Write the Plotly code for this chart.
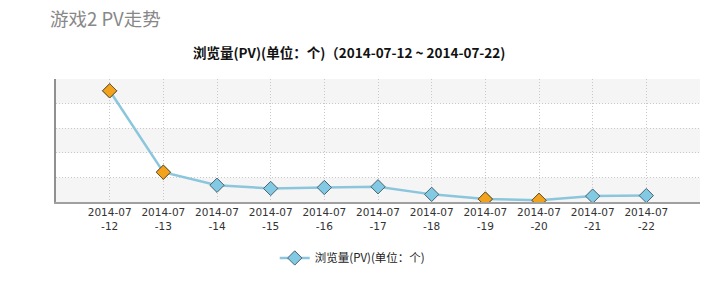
import plotly.graph_objects as go

dates = ["2014-07-12", "2014-07-13", "2014-07-14", "2014-07-15", "2014-07-16",
         "2014-07-17", "2014-07-18", "2014-07-19", "2014-07-20", "2014-07-21", "2014-07-22"]
tick_labels = ["2014-07<br>-12", "2014-07<br>-13", "2014-07<br>-14", "2014-07<br>-15",
               "2014-07<br>-16", "2014-07<br>-17", "2014-07<br>-18", "2014-07<br>-19",
               "2014-07<br>-20", "2014-07<br>-21", "2014-07<br>-22"]
pv = [4.52, 1.21, 0.68, 0.55, 0.59, 0.62, 0.31, 0.12, 0.07, 0.24, 0.26]
highlight = [True, True, False, False, False, False, False, True, True, False, False]

series_name = "浏览量(PV)(单位：个)"
x_idx = list(range(len(dates)))
hx = [x for x, h in zip(x_idx, highlight) if h]
hy = [y for y, h in zip(pv, highlight) if h]

fig = go.Figure()
fig.add_trace(go.Scatter(
    x=x_idx, y=pv, mode="lines+markers", name=series_name,
    line=dict(color="#8cc6dc", width=2.5),
    marker=dict(symbol="diamond", size=11, color="#82c9e3",
                line=dict(color="#4a6270", width=1)),
))
fig.add_trace(go.Scatter(
    x=hx, y=hy, mode="markers", showlegend=False,
    marker=dict(symbol="diamond", size=11, color="#f2a31b",
                line=dict(color="#6a5530", width=1)),
))

# alternating bands
shapes = []
for i in range(5):
    if i % 2 == 0:
        shapes.append(dict(type="rect", xref="paper", yref="y", x0=0, x1=1,
                           y0=i, y1=i + 1, fillcolor="#f5f5f5", line_width=0, layer="below"))

fig.update_layout(
    width=720, height=286,
    margin=dict(l=56, r=20, t=79, b=84),
    paper_bgcolor="white", plot_bgcolor="white",
    shapes=shapes,
    showlegend=True,
    legend=dict(orientation="h", x=0.46, xanchor="center", y=-0.455, yanchor="middle",
                itemwidth=30,
                font=dict(family="Noto Sans CJK SC, DejaVu Sans", size=11.5, color="#222222")),
    annotations=[
        dict(text="游戏2 PV走势", xref="paper", yref="paper", x=-0.012, y=1.0,
             xanchor="left", yanchor="middle", yshift=61, showarrow=False,
             font=dict(family="Noto Sans CJK SC", size=18.5, color="#888888")),
        dict(text="<b>浏览量(PV)(单位：个)（2014-07-12 ~ 2014-07-22)</b>", xref="paper", yref="paper",
             x=0.455, y=1.0, xanchor="center", yanchor="middle", yshift=27, showarrow=False,
             font=dict(family="Noto Sans CJK SC", size=13.5, color="#111111")),
    ],
    xaxis=dict(range=[-1, 11], tickvals=x_idx, ticktext=tick_labels,
               showgrid=True, gridcolor="#c8c8c8", griddash="1px,2px", gridwidth=1,
               zeroline=False, showline=True, linecolor="#a0a0a0", linewidth=1.5,
               ticks="", tickfont=dict(family="DejaVu Sans", size=10.5, color="#333333"),
               fixedrange=True),
    yaxis=dict(range=[0, 5], dtick=1, showticklabels=False, showgrid=True,
               gridcolor="#c8c8c8", griddash="1px,2px", gridwidth=1, zeroline=False,
               showline=True, linecolor="#909090", linewidth=2, ticks="", fixedrange=True),
)

fig.write_html("out.html")
